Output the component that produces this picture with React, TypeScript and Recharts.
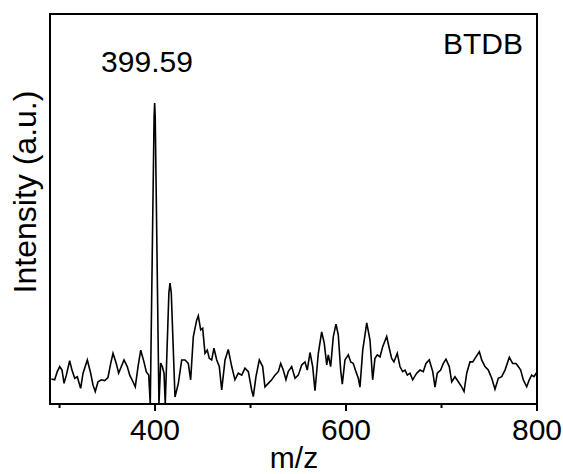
import React from 'react';
import { LineChart, Line, XAxis, YAxis, ReferenceArea, Customized } from 'recharts';

const mzValues: number[] = [
  291.4, 294.9, 297.6, 300.2, 302.6, 304.7, 307.1, 310.6, 313.0, 315.9,
  318.6, 322.1, 324.6, 329.1, 332.6, 335.0, 337.4, 340.3, 343.7, 347.3,
  350.7, 353.6, 356.0, 359.4, 361.9, 364.7, 367.5, 370.9, 373.5, 376.9,
  379.3, 382.2, 385.0, 388.4, 390.8, 393.4, 395.0, 399.0, 399.6, 400.2,
  404.1, 405.9, 407.6, 409.4, 410.7, 414.5, 415.7, 417.0, 420.9, 424.4,
  427.9, 431.4, 434.8, 437.3, 440.1, 443.6, 445.3, 447.8, 449.9, 452.3,
  454.7, 456.8, 459.3, 461.7, 464.6, 467.3, 469.8, 473.3, 476.7, 480.3,
  483.7, 487.2, 490.8, 494.2, 497.7, 501.2, 502.9, 505.7, 509.2, 512.7,
  515.1, 518.6, 522.2, 525.6, 529.1, 531.6, 534.3, 537.1, 539.5, 543.1,
  546.6, 550.0, 553.6, 557.0, 559.4, 562.3, 565.1, 567.5, 571.0, 574.5,
  577.2, 579.8, 581.4, 583.9, 586.7, 589.5, 591.9, 594.4, 596.1, 598.9,
  602.4, 604.9, 607.6, 610.4, 612.9, 614.6, 617.5, 621.7, 625.1, 627.9,
  630.3, 632.8, 635.6, 638.4, 642.6, 645.3, 647.8, 650.2, 653.7, 656.5,
  659.3, 661.8, 664.2, 667.0, 669.8, 674.0, 677.5, 680.9, 683.7, 687.2,
  690.8, 693.2, 695.6, 699.1, 701.9, 704.7, 708.1, 710.7, 714.1, 717.6,
  721.1, 723.6, 726.4, 729.8, 732.7, 736.1, 739.6, 742.1, 745.5, 749.0,
  752.6, 756.0, 759.5, 763.0, 766.5, 771.0, 774.5, 778.0, 780.4, 782.9,
  785.6, 789.2, 791.9, 794.4, 796.8, 800.0,
];

const intensityValues: number[] = [
  6.4, 6.2, 8.3, 9.6, 8.7, 5.3, 7.4, 11.1, 8.7, 6.6,
  7.0, 4.0, 7.9, 11.3, 7.9, 4.9, 3.2, 5.7, 6.2, 6.0,
  6.8, 10.4, 13.0, 10.4, 7.9, 9.6, 11.3, 9.6, 7.4, 5.7,
  4.4, 9.6, 13.8, 10.8, 8.3, 7.4, 0, 73.5, 77.2, 73.5,
  0, 10.5, 9.6, 7.9, 0, 28.5, 31.0, 28.5, 1.8, 5.3,
  11.3, 11.3, 10.4, 6.2, 17.3, 21.5, 22.6, 19.0, 19.4, 13.0,
  13.8, 11.7, 11.3, 14.3, 11.3, 9.6, 3.6, 11.3, 14.0, 9.6,
  6.2, 7.9, 7.4, 9.2, 8.3, 3.6, 1.9, 7.0, 11.3, 9.6,
  4.4, 5.3, 6.2, 7.4, 8.3, 10.4, 8.7, 6.2, 8.3, 9.6,
  6.6, 7.4, 10.0, 10.8, 8.7, 13.2, 9.6, 3.4, 13.0, 18.5,
  15.6, 10.0, 12.6, 9.6, 17.3, 20.5, 17.7, 8.7, 5.1, 11.3,
  12.6, 10.8, 10.4, 8.3, 6.6, 4.3, 13.8, 20.8, 16.4, 6.2,
  11.7, 12.6, 12.1, 14.7, 17.3, 14.3, 11.7, 10.8, 13.0, 9.6,
  8.3, 8.7, 7.4, 7.9, 6.2, 7.9, 8.7, 8.3, 10.4, 11.3,
  8.3, 4.3, 7.9, 8.7, 10.4, 11.5, 9.6, 5.7, 7.0, 5.7,
  4.4, 3.2, 7.9, 10.8, 10.8, 12.1, 13.4, 11.3, 9.6, 8.7,
  6.6, 3.8, 6.6, 7.0, 8.7, 12.0, 10.4, 10.4, 9.6, 8.7,
  6.2, 4.4, 6.2, 7.4, 7.0, 8.2,
];

const xTicks: number[] = [300, 400, 500, 600, 700, 800];
const majorTicks: number[] = [400, 600, 800];
const xDomain: [number, number] = [290, 800];
const yDomain: [number, number] = [0, 100];

const peakLabel = '399.59';
const sampleLabel = 'BTDB';
const xLabel = 'm/z';
const yLabel = 'Intensity (a.u.)';

const data = mzValues.map((mz, i) => ({ mz, intensity: intensityValues[i] }));

const FONT = '"Liberation Sans", Arial, Helvetica, sans-serif';

const XTick = (props: any) => {
  const { x, y, payload } = props;
  const major = majorTicks.includes(payload.value);
  return (
    <g>
      <line x1={x} x2={x} y1={y} y2={y + (major ? 7 : 4)} stroke="#000" strokeWidth={2} />
      {major && (
        <text x={x} y={y + 36} textAnchor="middle" fontSize={30} fontFamily={FONT} fill="#000">
          {payload.value}
        </text>
      )}
    </g>
  );
};

const Texts = () => (
  <g fontFamily={FONT} fill="#000">
    <text x={147} y={72} textAnchor="middle" fontSize={30}>{peakLabel}</text>
    <text x={523} y={54} textAnchor="end" fontSize={30}>{sampleLabel}</text>
    <text x={294} y={468} textAnchor="middle" fontSize={30}>{xLabel}</text>
    <text x={36} y={192} textAnchor="middle" fontSize={32} transform="rotate(-90 36 192)">{yLabel}</text>
  </g>
);

export default function App() {
  return (
    <div style={{ position: 'absolute', left: 0, top: 0, background: '#fff' }}>
      <LineChart
        width={563}
        height={474}
        data={data}
        margin={{ top: 14, right: 26, bottom: 0, left: 0 }}
      >
        <XAxis
          dataKey="mz"
          type="number"
          domain={xDomain}
          ticks={xTicks}
          allowDataOverflow
          height={70}
          tickSize={0}
          tickMargin={0}
          tickLine={false}
          axisLine={{ stroke: '#000', strokeWidth: 2 }}
          tick={<XTick />}
          interval={0}
        />
        <YAxis
          type="number"
          domain={yDomain}
          allowDataOverflow
          width={50}
          tick={false}
          tickLine={false}
          axisLine={{ stroke: '#000', strokeWidth: 2 }}
        />
        <Line
          type="linear"
          dataKey="intensity"
          stroke="#000"
          strokeWidth={1.6}
          dot={false}
          isAnimationActive={false}
        />
        <ReferenceArea
          x1={xDomain[0]}
          x2={xDomain[1]}
          y1={yDomain[0]}
          y2={yDomain[1]}
          fill="none"
          fillOpacity={0}
          stroke="#000"
          strokeWidth={2}
          ifOverflow="visible"
        />
        <Customized component={Texts} />
      </LineChart>
    </div>
  );
}
